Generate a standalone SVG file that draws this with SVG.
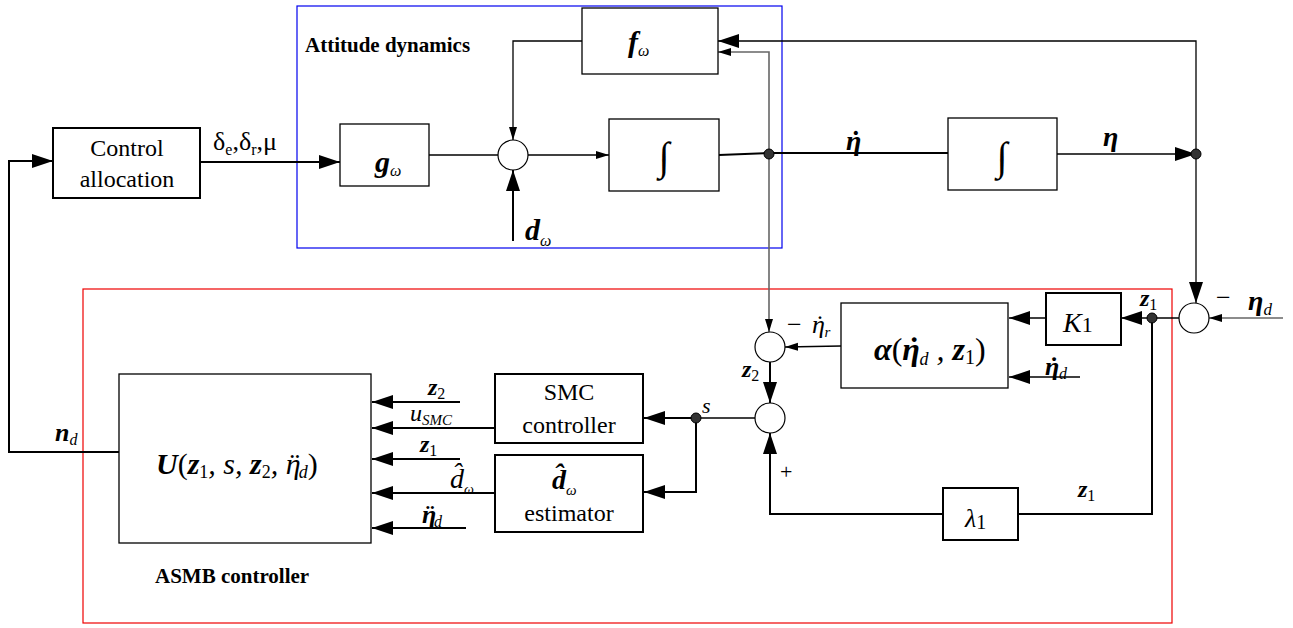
<svg xmlns="http://www.w3.org/2000/svg" width="1293" height="628" viewBox="0 0 1293 628">
<defs>
<marker id="big" markerUnits="userSpaceOnUse" markerWidth="22" markerHeight="16" refX="21" refY="7" orient="auto"><path d="M0,0 L21,7 L0,14 z" fill="#000"/></marker>
<marker id="sm" markerUnits="userSpaceOnUse" markerWidth="14" markerHeight="10" refX="13" refY="4" orient="auto"><path d="M0,0 L13,4 L0,8 z" fill="#000"/></marker>
</defs>
<rect width="1293" height="628" fill="#fff"/>

<g id="frames" fill="none" stroke-width="1.2">
<rect x="297" y="6" width="485" height="242" stroke="#0000ee"/>
<rect x="83" y="289" width="1089" height="334" stroke="#ee0000"/>
</g>

<g id="connectors" fill="none" stroke="#000" stroke-width="1.3">
<polyline stroke-width="2" points="119,452 9,452 9,161 53,161" marker-end="url(#big)"/>
<line stroke-width="2" x1="200" y1="162" x2="340" y2="162" marker-end="url(#big)"/>
<polyline points="582,41 513,41 513,140" marker-end="url(#sm)"/>
<line x1="429" y1="155" x2="498" y2="155"/>
<line x1="528" y1="155" x2="609" y2="155" marker-end="url(#sm)"/>
<line stroke-width="2" x1="513" y1="241" x2="513" y2="170" marker-end="url(#big)"/>
<polyline stroke-width="2" points="719,155 769,153 948,153"/>
<line x1="1057" y1="154" x2="1196" y2="154" marker-end="url(#big)"/>
<polyline points="1196,154 1196,41 718,41" marker-end="url(#big)"/>
<polyline stroke="#666" stroke-width="1.6" points="769,153 769,52 718,52" marker-end="url(#sm)"/>
<line stroke="#666" stroke-width="1.6" x1="769" y1="153" x2="769" y2="332" marker-end="url(#sm)"/>
<line x1="1196" y1="154" x2="1196" y2="303" marker-end="url(#big)"/>
<line stroke="#666" stroke-width="1.6" x1="1283" y1="318" x2="1209" y2="318" marker-end="url(#sm)"/>
<line x1="1179" y1="318" x2="1121" y2="318" marker-end="url(#big)"/>
<line x1="1046" y1="318" x2="1009" y2="318" marker-end="url(#big)"/>
<line x1="1080" y1="377" x2="1009" y2="377" marker-end="url(#big)"/>
<line x1="841" y1="346" x2="785" y2="347" marker-end="url(#sm)"/>
<line stroke-width="2" x1="770" y1="362" x2="770" y2="403" marker-end="url(#big)"/>
<polyline stroke-width="2" points="1152,318 1152,514 1018,514"/>
<polyline stroke-width="2" points="943,514 770,514 770,433" marker-end="url(#big)"/>
<line x1="755" y1="418" x2="696" y2="418"/>
<line stroke-width="2" x1="696" y1="418" x2="644" y2="418" marker-end="url(#big)"/>
<polyline stroke-width="2" points="696,418 696,492 644,492" marker-end="url(#big)"/>
<line stroke-width="2" x1="460" y1="402" x2="372" y2="402" marker-end="url(#big)"/>
<line stroke-width="2" x1="495" y1="428" x2="372" y2="428" marker-end="url(#big)"/>
<line stroke-width="2" x1="460" y1="459" x2="372" y2="459" marker-end="url(#big)"/>
<line stroke-width="2" x1="495" y1="493" x2="372" y2="493" marker-end="url(#big)"/>
<line stroke-width="2" x1="466" y1="528" x2="372" y2="528" marker-end="url(#big)"/>
<g fill="#333" stroke-width="1">
<circle cx="769" cy="154" r="5"/>
<circle cx="1196" cy="154" r="5"/>
<circle cx="1152" cy="318" r="5"/>
<circle cx="696" cy="418" r="5"/>
</g>
</g>

<g id="nodes" fill="#fff" stroke="#000" stroke-width="1.3">
<rect id="ctrl-alloc" stroke-width="2" x="53" y="128" width="147" height="70"/>
<rect id="g-omega" x="340" y="124" width="89" height="62"/>
<rect id="f-omega" x="582" y="8" width="136" height="66"/>
<circle id="sum1" stroke-width="1.2" cx="513" cy="155" r="15"/>
<rect id="int1" x="609" y="119" width="110" height="72"/>
<rect id="int2" x="948" y="118" width="109" height="72"/>
<circle id="sum-eta" stroke-width="1.2" cx="1194" cy="318" r="15"/>
<rect id="k1" stroke-width="2" x="1046" y="293" width="75" height="52"/>
<rect id="alpha" x="841" y="303" width="167" height="85"/>
<circle id="sum2" stroke-width="1.2" cx="770" cy="347" r="15"/>
<circle id="sum3" stroke-width="1.2" cx="770" cy="418" r="15"/>
<rect id="lambda1" stroke-width="2" x="943" y="488" width="75" height="52"/>
<rect id="smc" stroke-width="2" x="495" y="374" width="148" height="69"/>
<rect id="estimator" stroke-width="2" x="495" y="455" width="148" height="77"/>
<rect id="u-box" x="119" y="374" width="252" height="169"/>
</g>

<g id="labels" font-family="Liberation Serif" fill="#000">
<text x="305" y="52" font-size="21" font-weight="bold">Attitude dynamics</text>
<text x="155" y="583" font-size="21" font-weight="bold">ASMB  controller</text>
<text x="127" y="156" font-size="24" text-anchor="middle">Control</text>
<text x="127" y="187" font-size="24" text-anchor="middle">allocation</text>
<text x="213" y="150" font-size="26">δ<tspan font-size="16" dy="5">e</tspan><tspan dy="-5">,δ</tspan><tspan font-size="16" dy="5">r</tspan><tspan dy="-5">,μ</tspan></text>
<text font-style="italic" font-weight="bold" x="375" y="172" font-size="30">g<tspan font-weight="normal" font-size="16" dy="4">ω</tspan></text>
<text font-style="italic" font-weight="bold" x="628" y="52" font-size="30">f<tspan font-weight="normal" font-size="16" dy="4">ω</tspan></text>
<text font-style="italic" font-weight="bold" x="525" y="240" font-size="30">d<tspan font-weight="normal" font-size="16" dy="6">ω</tspan></text>
<text x="664" y="170" font-size="40" text-anchor="middle">∫</text>
<text font-style="italic" font-weight="bold" x="846" y="150" font-size="28">η<tspan dx="-12">˙</tspan></text>
<text x="1002" y="170" font-size="40" text-anchor="middle">∫</text>
<text font-style="italic" font-weight="bold" x="1103" y="146" font-size="28">η</text>
<text x="1216" y="306" font-size="26">−</text>
<text font-style="italic" font-weight="bold" x="1248" y="310" font-size="28">η<tspan font-weight="normal" font-size="17" dy="5">d</tspan></text>
<text font-style="italic" font-weight="bold" x="1140" y="306" font-size="24">z<tspan font-style="normal" font-weight="normal" font-size="16" dy="4">1</tspan></text>
<text font-style="italic" x="1063" y="332" font-size="28">K<tspan font-style="normal" font-size="22">1</tspan></text>
<text font-style="italic" x="874" y="360" font-size="32"><tspan font-weight="bold">α</tspan><tspan font-style="normal">(</tspan><tspan font-weight="bold">η</tspan><tspan font-weight="bold" dx="-13">˙</tspan><tspan font-size="18" dx="2" dy="5">d</tspan><tspan dy="-5"> , </tspan><tspan font-weight="bold">z</tspan><tspan font-style="normal" font-size="20" dy="4">1</tspan><tspan font-style="normal" dy="-4">)</tspan></text>
<text font-style="italic" font-weight="bold" x="1045" y="375" font-size="26">η<tspan dx="-11">˙</tspan><tspan font-weight="normal" font-size="16" dx="2" dy="4">d</tspan></text>
<text x="787" y="333" font-size="26">−</text>
<text font-style="italic" x="812" y="333" font-size="26">η<tspan dx="-11">˙</tspan><tspan font-size="15" dx="2" dy="4">r</tspan></text>
<text font-style="italic" font-weight="bold" x="742" y="377" font-size="24">z<tspan font-style="normal" font-weight="normal" font-size="16" dy="4">2</tspan></text>
<text font-style="italic" x="702" y="413" font-size="22">s</text>
<text x="780" y="479" font-size="22">+</text>
<text font-style="italic" x="965" y="527" font-size="26">λ<tspan font-style="normal" font-size="20" dy="2">1</tspan></text>
<text font-style="italic" font-weight="bold" x="1078" y="497" font-size="24">z<tspan font-style="normal" font-weight="normal" font-size="16" dy="4">1</tspan></text>
<text x="569" y="400" font-size="24" text-anchor="middle">SMC</text>
<text x="569" y="433" font-size="24" text-anchor="middle">controller</text>
<text font-style="italic" font-weight="bold" x="552" y="489" font-size="28">d̂<tspan font-weight="normal" font-size="15" dy="6">ω</tspan></text>
<text x="569" y="521" font-size="24" text-anchor="middle">estimator</text>
<text font-style="italic" font-weight="bold" x="428" y="395" font-size="24">z<tspan font-style="normal" font-weight="normal" font-size="16" dy="4">2</tspan></text>
<text font-style="italic" x="410" y="421" font-size="24">u<tspan font-size="15" dy="4">SMC</tspan></text>
<text font-style="italic" font-weight="bold" x="420" y="452" font-size="24">z<tspan font-style="normal" font-weight="normal" font-size="16" dy="4">1</tspan></text>
<text font-style="italic" x="450" y="488" font-size="28">d̂<tspan font-size="14" dy="6">ω</tspan></text>
<text font-style="italic" font-weight="bold" x="422" y="523" font-size="26">η<tspan dx="-12">¨</tspan><tspan font-weight="normal" font-size="16" dx="1" dy="4">d</tspan></text>
<text font-style="italic" x="156" y="474" font-size="30"><tspan font-weight="bold">U</tspan><tspan font-style="normal">(</tspan><tspan font-weight="bold">z</tspan><tspan font-style="normal" font-size="18" dy="4">1</tspan><tspan dy="-4">, s, </tspan><tspan font-weight="bold">z</tspan><tspan font-style="normal" font-size="18" dy="4">2</tspan><tspan dy="-4">, η</tspan><tspan dx="-13">¨</tspan><tspan font-size="18" dx="1" dy="4">d</tspan><tspan font-style="normal" dy="-4">)</tspan></text>
<text font-style="italic" font-weight="bold" x="55" y="441" font-size="26">n<tspan font-weight="normal" font-size="16" dy="4">d</tspan></text>
</g>
</svg>
